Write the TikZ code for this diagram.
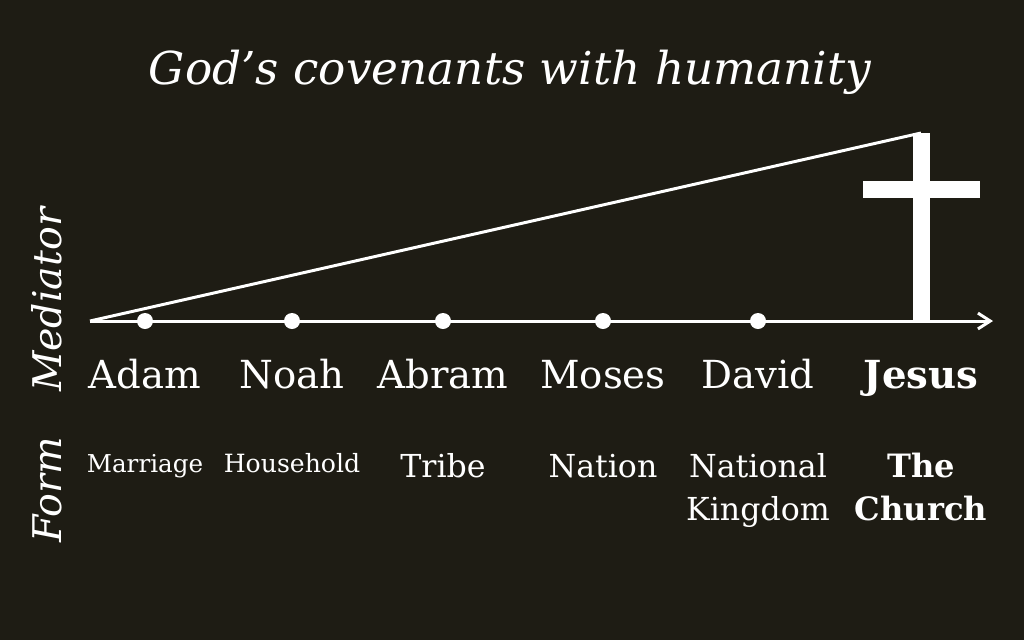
\documentclass[tikz,border=0pt]{standalone}
\usepackage{fontspec}
\setmainfont{DejaVu Serif}
\usetikzlibrary{arrows.meta}
\definecolor{bgdark}{RGB}{30,28,20}
\tikzset{
  mediatorlbl/.style={font=\fontsize{22}{26}\selectfont, text=white, anchor=base},
  formlbl/.style={font=\fontsize{18}{24.4}\selectfont, text=white, align=center, anchor=base},
  sidelbl/.style={font=\fontsize{22.5}{26}\selectfont\itshape, text=white, rotate=90}
}

\begin{document}
\begin{tikzpicture}[x=0.02cm, y=-0.02cm]
\fill[bgdark] (0,0) rectangle (1024,640);
\useasboundingbox (0,0) rectangle (1024,640);

\node[text=white, font=\fontsize{25.8}{30}\selectfont\itshape] (title) at (510,72) {God’s covenants with humanity};

\coordinate (origin) at (90,321);
\coordinate (tip) at (993,321);
\coordinate (apex) at (921,133);

\draw[white, line width=1.7pt, -{Straight Barb[length=7pt, width=9pt]}] (origin)--(tip);
\draw[white, line width=1.7pt] (origin)--(apex);

% the cross
\fill[white] (912.5,133) rectangle (929.5,321);
\fill[white] (863,180.5) rectangle (980,197.5);

\fill[white] (145,321) circle (8);
\fill[white] (292,321) circle (8);
\fill[white] (443,321) circle (8);
\fill[white] (603,321) circle (8);
\fill[white] (758,321) circle (8);

\node[mediatorlbl] (adam) at (145,388) {Adam};
\node[mediatorlbl] (noah) at (292,388) {Noah};
\node[mediatorlbl] (abram) at (443,388) {Abram};
\node[mediatorlbl] (moses) at (603,388) {Moses};
\node[mediatorlbl] (david) at (758,388) {David};
\node[mediatorlbl, font=\fontsize{22}{26}\selectfont\bfseries] (jesus) at (921,388) {Jesus};

\node[formlbl, font=\fontsize{14}{16}\selectfont] (marriage) at (145,472) {Marriage};
\node[formlbl, font=\fontsize{14.3}{16}\selectfont] (household) at (292,472) {Household};
\node[formlbl] (tribe) at (443,477) {Tribe};
\node[formlbl] (nation) at (603,477) {Nation};
\node[formlbl] (kingdom) at (758,520) {National\\Kingdom};
\node[formlbl, font=\fontsize{18.3}{24.4}\selectfont\bfseries] (church) at (921,520) {The\\Church};

\node[sidelbl] (mediator) at (47,300) {Mediator};
\node[sidelbl] (formside) at (47,490) {Form};
\end{tikzpicture}
\end{document}
